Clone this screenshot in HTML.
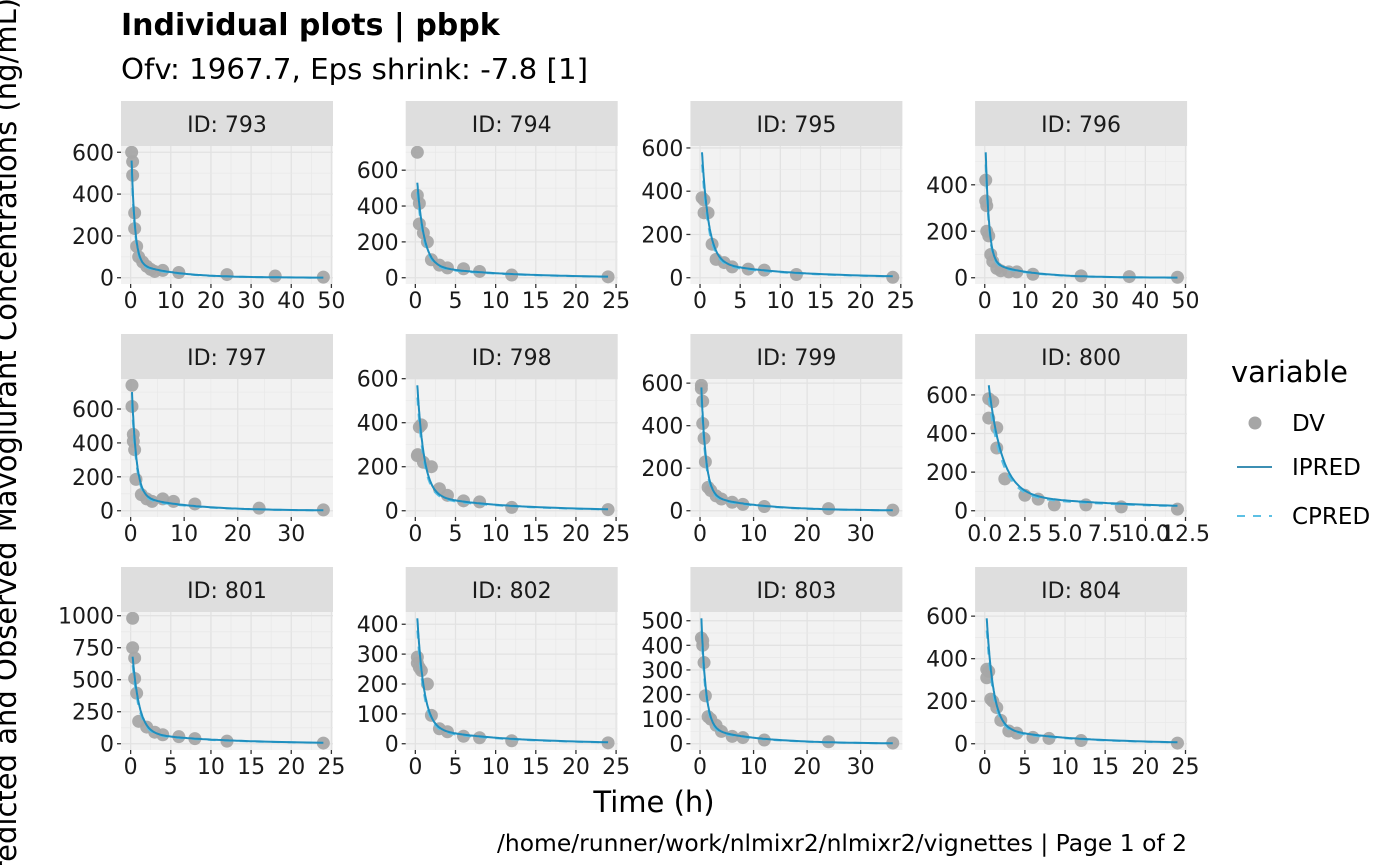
<!DOCTYPE html>
<html><head><meta charset="utf-8"><style>
html,body{margin:0;padding:0;background:#fff;width:1400px;height:865px;overflow:hidden}
svg text{font-family:"DejaVu Sans","Liberation Sans",sans-serif}
</style></head><body>
<svg id="s" width="1400" height="865" xmlns="http://www.w3.org/2000/svg">
<text x="121" y="35" font-size="30" font-weight="bold" fill="#000">Individual plots | pbpk</text>
<text x="121" y="79" font-size="28.5" fill="#000" textLength="467" lengthAdjust="spacingAndGlyphs">Ofv: 1967.7, Eps shrink: -7.8 [1]</text>
<text transform="translate(16,444) rotate(-90)" text-anchor="middle" font-size="29" fill="#000">Predicted and Observed Mavoglurant Concentrations (ng/mL)</text>
<text x="654" y="812" text-anchor="middle" font-size="29" fill="#000">Time (h)</text>
<text x="1187" y="851" text-anchor="end" font-size="23" fill="#000" textLength="690" lengthAdjust="spacingAndGlyphs">/home/runner/work/nlmixr2/nlmixr2/vignettes | Page 1 of 2</text>
<text x="1231" y="382" font-size="29" fill="#000">variable</text>
<circle cx="1255" cy="423" r="6.5" fill="#a6a6a6"/>
<text x="1292" y="431" font-size="23" fill="#000">DV</text>
<line x1="1237" y1="467" x2="1272" y2="467" stroke="#3c8fb3" stroke-width="2"/>
<text x="1292" y="475" font-size="23" fill="#000">IPRED</text>
<line x1="1237" y1="516" x2="1272" y2="516" stroke="#5cc0e4" stroke-width="2" stroke-dasharray="8,8"/>
<text x="1292" y="524" font-size="23" fill="#000">CPRED</text>
</svg>
<script>
const P=[
{id:793,xm:48,xb:[0,10,20,30,40,50],yb:[0,200,400,600],c0:560,pts:[[0.25,600],[0.5,555],[0.5,490],[1,310],[1,235],[1.5,150],[2,100],[3,75],[4,55],[5,40],[6,30],[8,35],[12,25],[24,15],[36,8],[48,3]]},
{id:794,xm:24,xb:[0,5,10,15,20,25],yb:[0,200,400,600],c0:530,pts:[[0.25,700],[0.25,460],[0.5,415],[0.5,300],[1,250],[1.5,200],[2,100],[3,70],[4,55],[6,50],[8,35],[12,15],[24,5]]},
{id:795,xm:24,xb:[0,5,10,15,20,25],yb:[0,200,400,600],c0:580,pts:[[0.25,370],[0.5,360],[0.5,300],[1,300],[1.5,155],[2,85],[3,70],[4,50],[6,40],[8,35],[12,15],[24,2]]},
{id:796,xm:48,xb:[0,10,20,30,40,50],yb:[0,200,400],c0:540,pts:[[0.25,420],[0.25,330],[0.5,310],[0.5,200],[1,180],[1.5,100],[2,70],[3,40],[4,30],[6,25],[8,25],[12,15],[24,8],[36,5],[48,2]]},
{id:797,xm:36,xb:[0,10,20,30],yb:[0,200,400,600],c0:700,pts:[[0.25,740],[0.25,615],[0.5,450],[0.5,410],[0.75,360],[1,185],[2,95],[3,70],[4,55],[6,70],[8,55],[12,40],[24,15],[36,5]]},
{id:798,xm:24,xb:[0,5,10,15,20,25],yb:[0,200,400,600],c0:570,pts:[[0.25,250],[0.3,255],[0.5,380],[0.75,390],[1,220],[2,200],[3,100],[4,70],[6,45],[8,40],[12,15],[24,5]]},
{id:799,xm:36,xb:[0,10,20,30],yb:[0,200,400,600],c0:580,pts:[[0.25,590],[0.25,575],[0.5,515],[0.5,410],[0.75,340],[1,230],[1.5,110],[2,95],[3,70],[4,55],[6,40],[8,30],[12,20],[24,10],[36,3]]},
{id:800,xm:12,xb:[0,2.5,5,7.5,10,12.5],xl:["0.0","2.5","5.0","7.5","10.0","12.5"],yb:[0,200,400,600],c0:650,pts:[[0.25,580],[0.5,565],[0.25,480],[0.75,430],[0.75,325],[1.25,165],[2.5,80],[3.33,60],[4.33,30],[6.3,30],[8.5,20],[12,8]]},
{id:801,xm:24,xb:[0,5,10,15,20,25],yb:[0,250,500,750,1000],c0:680,pts:[[0.25,980],[0.25,750],[0.5,670],[0.5,510],[0.75,395],[1,175],[2,130],[3,90],[4,70],[6,55],[8,40],[12,20],[24,5]]},
{id:802,xm:24,xb:[0,5,10,15,20,25],yb:[0,100,200,300,400],c0:420,pts:[[0.25,290],[0.25,270],[0.5,255],[0.75,245],[1.5,200],[2,95],[3,50],[4,40],[6,25],[8,20],[12,10],[24,3]]},
{id:803,xm:36,xb:[0,10,20,30],yb:[0,100,200,300,400,500],c0:510,pts:[[0.25,430],[0.5,420],[0.5,400],[0.75,330],[1,195],[1.5,110],[2,100],[3,75],[4,50],[6,30],[8,25],[12,15],[24,8],[36,3]]},
{id:804,xm:24,xb:[0,5,10,15,20,25],yb:[0,200,400,600],c0:590,pts:[[0.25,350],[0.5,340],[0.25,310],[0.75,210],[1,200],[1.5,170],[2,110],[3,60],[4,50],[6,30],[8,25],[12,15],[24,3]]}
];
const s=document.getElementById('s');let h='';
const g=t=>0.9*Math.exp(-1.2*t)+0.1*Math.exp(-0.1*t);
const f=(t,c)=>c*g(t)/g(0.25);
P.forEach((p,i)=>{
 const col=i%4,row=Math.floor(i/4);
 const X0=121+col*284.7,Y0=101+row*233,W=212,SH=45,PT=Y0+SH,PH=138;
 let ymax=Math.max(p.c0,...p.pts.map(q=>q[1]));
 const xlo=-0.05*p.xm,xhi=1.05*p.xm,ylo=-0.05*ymax,yhi=1.05*ymax;
 const sx=t=>X0+(t-xlo)/(xhi-xlo)*W,sy=v=>PT+PH-(v-ylo)/(yhi-ylo)*PH;
 h+=`<rect x="${X0}" y="${Y0}" width="${W}" height="${SH}" fill="#dedede"/>`;
 h+=`<text x="${X0+W/2}" y="${Y0+31}" text-anchor="middle" font-size="22" fill="#1a1a1a">ID: ${p.id}</text>`;
 h+=`<rect x="${X0}" y="${PT}" width="${W}" height="${PH}" fill="#f2f2f2"/>`;
 h+=`<clipPath id="c${i}"><rect x="${X0}" y="${PT}" width="${W}" height="${PH}"/></clipPath><g clip-path="url(#c${i})">`;
 for(let k=0;k<p.xb.length;k++){const x=sx(p.xb[k]);h+=`<line x1="${x}" y1="${PT}" x2="${x}" y2="${PT+PH}" stroke="#e2e2e2" stroke-width="1.3"/>`;if(k<p.xb.length-1){const m=sx((p.xb[k]+p.xb[k+1])/2);h+=`<line x1="${m}" y1="${PT}" x2="${m}" y2="${PT+PH}" stroke="#e8e8e8" stroke-width="0.7"/>`;}}
 for(let k=0;k<p.yb.length;k++){const y=sy(p.yb[k]);h+=`<line x1="${X0}" y1="${y}" x2="${X0+W}" y2="${y}" stroke="#e2e2e2" stroke-width="1.3"/>`;const m=sy(p.yb[k]+(p.yb[1]-p.yb[0])/2);h+=`<line x1="${X0}" y1="${m}" x2="${X0+W}" y2="${m}" stroke="#e8e8e8" stroke-width="0.7"/>`;}
 p.pts.forEach(q=>{h+=`<circle cx="${sx(q[0])}" cy="${sy(q[1])}" r="6.5" fill="#a6a6a6" fill-opacity="0.95"/>`;});
 let d='',d2='';for(let t=0.25;t<=p.xm;t+=Math.max(0.02,t*0.04)){d+=(d?'L':'M')+sx(t).toFixed(1)+','+sy(f(t,p.c0)).toFixed(1);d2+=(d2?'L':'M')+sx(t).toFixed(1)+','+sy(f(t,p.c0*0.93)*0.97).toFixed(1);}
 d+='L'+sx(p.xm)+','+sy(f(p.xm,p.c0));
 h+=`<path d="${d2}" fill="none" stroke="#5cc0e4" stroke-width="2" stroke-dasharray="8,8"/>`;
 h+=`<path d="${d}" fill="none" stroke="#1f8fbf" stroke-width="2"/>`;
 h+='</g>';
 p.xb.forEach((b,k)=>{const x=sx(b);h+=`<line x1="${x}" y1="${PT+PH}" x2="${x}" y2="${PT+PH+4}" stroke="#333" stroke-width="1.3"/><text x="${x}" y="${PT+PH+24}" text-anchor="middle" font-size="22" fill="#1a1a1a">${p.xl?p.xl[k]:b}</text>`;});
 p.yb.forEach(b=>{const y=sy(b);h+=`<line x1="${X0-4}" y1="${y}" x2="${X0}" y2="${y}" stroke="#333" stroke-width="1.3"/><text x="${X0-7}" y="${y+8}" text-anchor="end" font-size="22" fill="#1a1a1a">${b}</text>`;});
});
s.insertAdjacentHTML('beforeend',h);
</script>
</body></html>
